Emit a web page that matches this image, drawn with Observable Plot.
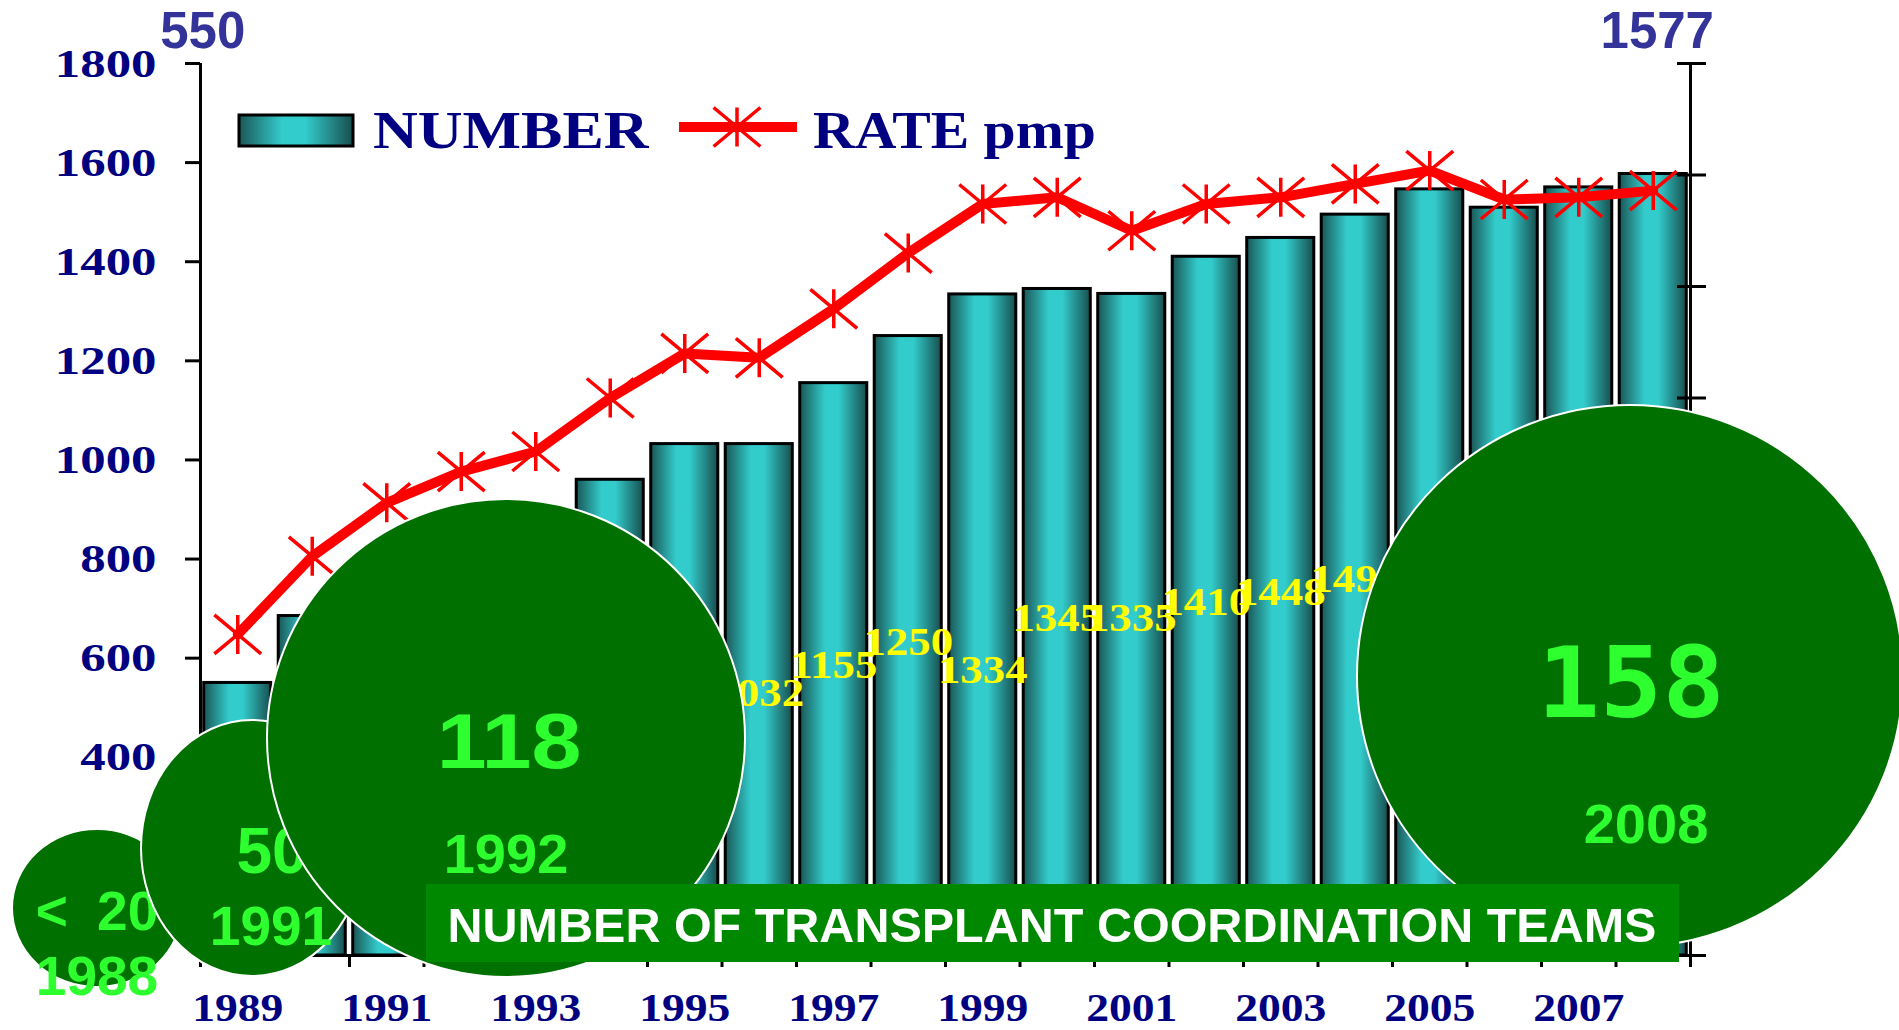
<!DOCTYPE html>
<html>
<head>
<meta charset="utf-8">
<script src="https://cdn.jsdelivr.net/npm/d3@7"></script>
<script src="https://cdn.jsdelivr.net/npm/@observablehq/plot@0.6"></script>
<style>
  html, body { margin: 0; padding: 0; background: #ffffff; }
  #chart { width: 1899px; height: 1030px; overflow: hidden; }
  #chart svg { display: block; overflow: visible; }
</style>
</head>
<body>
<div id="chart"></div>
<script>
// ---------------- data ----------------
const years = [1989, 1990, 1991, 1992, 1993, 1994, 1995, 1996, 1997, 1998,
               1999, 2000, 2001, 2002, 2003, 2004, 2005, 2006, 2007, 2008];
const donors = [550, 685, 788, 852, 869, 960, 1032, 1032, 1155, 1250,
                1334, 1345, 1335, 1410, 1448, 1495, 1546, 1509, 1550, 1577];
const ratePmp = [14.4, 17.9, 20.3, 21.7, 22.6, 25.0, 27.0, 26.8, 29.0, 31.5,
                 33.7, 34.0, 32.5, 33.7, 34.0, 34.6, 35.2, 33.9, 34.0, 34.3];
// yellow value labels (years shown) and their heights on the left axis
const labelYears = [1996, 1997, 1998, 1999, 2000, 2001, 2002, 2003, 2004];
const labelLevel = [529, 585, 632, 575, 680, 680, 712, 733, 759];
const leftTickLabels = [400, 600, 800, 1000, 1200, 1400, 1600, 1800];
const rightTicks = [0, 5, 10, 15, 20, 25, 30, 35, 40];
const yearTickLabels = [1989, 1991, 1993, 1995, 1997, 1999, 2001, 2003, 2005, 2007];
// transplant coordination teams
const teamCounts = ["< 20", "50", "118", "158"];
const teamYears = ["1988", "1991", "1992", "2008"];
const legendLabels = ["NUMBER", "RATE pmp"];
const bannerText = "NUMBER OF TRANSPLANT COORDINATION TEAMS";

// rate (0–40 pmp) shares the frame with number (0–1800)
const rateFactor = 1800 / 40;
const table = years.map((year, i) => ({year, donors: donors[i], rate: ratePmp[i]}));
const labelTable = labelYears.map((year, i) => ({year, level: labelLevel[i], value: donors[years.indexOf(year)]}));

const NAVY = "#000080";
const SERIF = "'Liberation Serif', 'Times New Roman', serif";
const SANS = "'Liberation Sans', Arial, sans-serif";

const starSymbol = {
  draw(ctx, size) {
    const r = Math.sqrt(size / Math.PI);
    ctx.moveTo(0, -r); ctx.lineTo(0, r);
    ctx.moveTo(-1.2 * r, -r); ctx.lineTo(1.2 * r, r);
    ctx.moveTo(-1.2 * r, r); ctx.lineTo(1.2 * r, -r);
  }
};

const defsMark = () => {
  const defs = d3.create("svg:defs");
  const g = defs.append("linearGradient").attr("id", "barGrad")
    .attr("x1", "0").attr("x2", "1").attr("y1", "0").attr("y2", "0");
  g.append("stop").attr("offset", "0%").attr("stop-color", "#1b5656");
  g.append("stop").attr("offset", "38%").attr("stop-color", "#33cccc");
  g.append("stop").attr("offset", "58%").attr("stop-color", "#33cccc");
  g.append("stop").attr("offset", "100%").attr("stop-color", "#184e4e");
  return defs.node();
};

const x0 = years[0] - 0.5, x1 = years[years.length - 1] + 0.5;

const chart = Plot.plot({
  width: 1899,
  height: 1030,
  marginLeft: 200,
  marginRight: 209,
  marginTop: 63,
  marginBottom: 75,
  x: {domain: [x0, x1], axis: null, label: null},
  y: {domain: [0, 1800], axis: null, label: null},
  style: {background: "#ffffff", overflow: "visible"},
  marks: [
    defsMark,
    Plot.rectY(table, {
      x1: d => d.year - 0.45, x2: d => d.year + 0.45, y: "donors",
      fill: "url(#barGrad)", stroke: "#000000", strokeWidth: 3
    }),
    Plot.line(table, {x: "year", y: d => d.rate * rateFactor, stroke: "#ff0000", strokeWidth: 10}),
    Plot.dot(table, {x: "year", y: d => d.rate * rateFactor, symbol: starSymbol, r: 19.5,
      fill: "none", stroke: "#ff0000", strokeWidth: 3.5}),
    Plot.text(labelTable, {x: "year", y: "level", text: d => String(d.value),
      fill: "#ffff00", fontSize: 40, fontWeight: "bold", fontFamily: SERIF}),
    // axis lines
    Plot.ruleX([x0, x1], {stroke: "#000000", strokeWidth: 3}),
    Plot.ruleY([0], {stroke: "#000000", strokeWidth: 3}),
    // left axis
    Plot.axisY(leftTickLabels, {anchor: "left", tickSize: 15, tickPadding: 29, strokeWidth: 3,
      stroke: "#000000", fill: NAVY, fontSize: 41, fontWeight: "bold", fontFamily: SERIF,
      tickFormat: d => String(d), label: null}),
    // right axis ticks (crossing the axis)
    Plot.ruleY(rightTicks, {y: d => d * rateFactor, x1: x1, x2: x1,
      insetLeft: -13, insetRight: -16, stroke: "#000000", strokeWidth: 3}),
    // bottom boundary ticks
    Plot.ruleX([...years.map(y => y - 0.5), x1], {y1: 0, y2: 0,
      insetBottom: -12, stroke: "#000000", strokeWidth: 3}),
    Plot.axisX(yearTickLabels, {tickSize: 0, tickPadding: 37, fill: NAVY, label: null,
      fontSize: 40, fontWeight: "bold", fontFamily: SERIF, tickFormat: d => String(d)}),
    // first and last values at the top
    Plot.text([table[0]], {x: "year", y: () => 1800, text: d => String(d.donors), dx: -35, dy: -32,
      fill: "#333399", fontSize: 51, fontWeight: "bold", fontFamily: SANS}),
    Plot.text([table[table.length - 1]], {x: "year", y: () => 1800, text: d => String(d.donors), dx: 4, dy: -32,
      fill: "#333399", fontSize: 51, fontWeight: "bold", fontFamily: SANS})
  ]
});

document.getElementById("chart").appendChild(chart);
const svg = d3.select(chart);

// horizontal stretch of text glyphs (the original slide text is widened)
function stretch(el, s) {
  const t = el.getAttribute("transform") || "";
  const xa = el.getAttribute("x");
  if (xa != null && xa !== "" && !isNaN(+xa)) el.setAttribute("x", +xa / s);
  el.setAttribute("transform", `${t} scale(${s},1)`);
}
svg.selectAll('g[aria-label="y-axis tick label"] text').each(function() { stretch(this, 1.24); });
svg.selectAll('g[aria-label="x-axis tick label"] text').each(function() { stretch(this, 1.14); });
const textGroups = svg.selectAll('g[aria-label="text"]').nodes();
if (textGroups.length) d3.select(textGroups[0]).selectAll("text").each(function() { stretch(this, 1.12); });

// ---------------- overlays: legend, team bubbles, banner ----------------
const lg = svg.append("g").attr("text-anchor", "start");
lg.append("rect").attr("x", 239).attr("y", 115).attr("width", 114).attr("height", 31)
  .attr("fill", "url(#barGrad)").attr("stroke", "#000").attr("stroke-width", 3);
const t1 = lg.append("text").attr("x", 373).attr("y", 148).text(legendLabels[0])
  .attr("fill", NAVY).attr("font-family", SERIF).attr("font-weight", "bold")
  .attr("font-size", 53);
stretch(t1.node(), 1.17);
lg.append("line").attr("x1", 679).attr("x2", 797).attr("y1", 127).attr("y2", 127)
  .attr("stroke", "#ff0000").attr("stroke-width", 10);
lg.append("path").attr("transform", "translate(737,127)")
  .attr("d", d3.symbol(starSymbol, Math.PI * 19.5 * 19.5)())
  .attr("fill", "none").attr("stroke", "#ff0000").attr("stroke-width", 3.5);
const t2 = lg.append("text").attr("x", 813).attr("y", 148).text(legendLabels[1])
  .attr("fill", NAVY).attr("font-family", SERIF).attr("font-weight", "bold")
  .attr("font-size", 53);
stretch(t2.node(), 1.09);

// bubble layout (annotation placement only)
const bubbleLayout = [
  {cx: 97,   cy: 908, rx: 85,  ry: 79,  nx: 97,   ny: 930, ns: 55, ys: 55, yx: 97,   yy: 995, ws: 14, sx: 1},
  {cx: 252,  cy: 848, rx: 111, ry: 128, nx: 272,  ny: 873, ns: 64, ys: 55, yx: 271,  yy: 945, sx: 1},
  {cx: 506,  cy: 738, rx: 239, ry: 239, nx: 509,  ny: 768, ns: 78, ys: 56, yx: 506,  yy: 873, sx: 1.15},
  {cx: 1630, cy: 676, rx: 273, ry: 271, nx: 1631, ny: 717, ns: 98, ys: 56, yx: 1646, yy: 843, sx: 1.06, mono: true}
];
const bg = svg.append("g").attr("text-anchor", "middle");
teamCounts.forEach((count, i) => {
  const b = bubbleLayout[i];
  const g = bg.append("g");
  g.append("ellipse").attr("cx", b.cx).attr("cy", b.cy).attr("rx", b.rx).attr("ry", b.ry)
    .attr("fill", "#007000").attr("stroke", "#ffffff").attr("stroke-width", 2);
  const tn = g.append("text").attr("x", b.nx).attr("y", b.ny)
    .attr("fill", "#2eff2e").attr("font-weight", "bold").attr("font-size", b.ns)
    .attr("font-family", b.mono ? "'DejaVu Sans Mono', 'Liberation Mono', monospace" : SANS)
    .attr("word-spacing", b.ws || 0)
    .text(count);
  if (b.sx !== 1) stretch(tn.node(), b.sx);
  g.append("text").attr("x", b.yx).attr("y", b.yy)
    .attr("fill", "#2eff2e").attr("font-weight", "bold").attr("font-size", b.ys)
    .attr("font-family", SANS).text(teamYears[i]);
});

// banner
const ban = svg.append("g");
ban.append("rect").attr("x", 426).attr("y", 884).attr("width", 1253).attr("height", 78).attr("fill", "#008800");
ban.append("text").attr("x", 1052).attr("y", 942).attr("text-anchor", "middle")
  .attr("fill", "#ffffff").attr("font-family", SANS).attr("font-weight", "bold")
  .attr("font-size", 48.5).text(bannerText);
</script>
</body>
</html>
